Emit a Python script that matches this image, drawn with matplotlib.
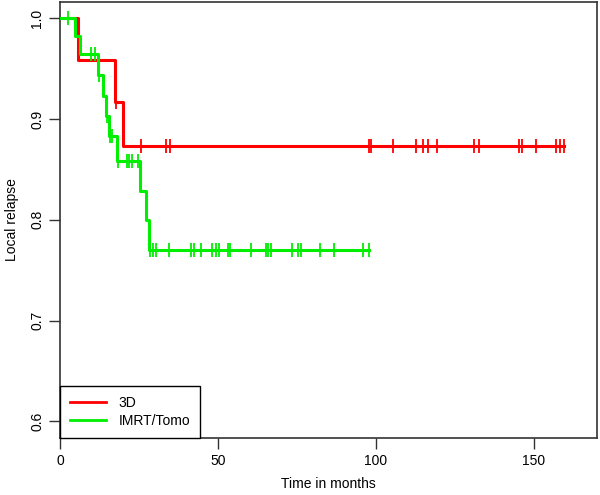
import numpy as np
import matplotlib
matplotlib.use("Agg")
import matplotlib.pyplot as plt

plt.rcParams['font.family'] = ['Liberation Sans', 'DejaVu Sans']

# Kaplan-Meier steps: time of drop, level after it
red_t = [0, 5.8, 17.3, 20.0]
red_s = [1.0, 0.958, 0.917, 0.873]
red_end = 159.5
red_cens = [17.7, 25.6, 33.7, 34.8, 97.9, 98.3, 105.5, 112.6, 114.9, 116.5,
            119.4, 131.0, 132.8, 145.3, 146.3, 150.6, 156.9, 158.3, 159.5]

green_t = [0, 4.6, 6.2, 12.0, 13.7, 14.5, 15.6, 18.1, 25.3, 27.1, 28.1]
green_s = [1.0, 0.982, 0.964, 0.944, 0.923, 0.903, 0.883, 0.858, 0.829, 0.800, 0.770]
green_end = 97.7
green_cens = [2.6, 9.7, 11.2, 12.4, 14.8, 15.8, 16.5, 18.4, 21.1, 21.8, 22.8, 24.7,
              28.5, 29.5, 30.3, 34.5, 41.5, 42.5, 44.5, 48.0, 49.3, 50.4, 53.3, 53.7,
              60.4, 65.1, 66.0, 66.7, 73.6, 75.5, 76.2, 82.4, 86.8, 95.8, 97.7]

labels = ['3D', 'IMRT/Tomo']
colors = ['#ff0000', '#00ee00']


def km(ax, t, s, end, cens, color, label):
    xs = list(t) + [end]
    ys = list(s) + [s[-1]]
    ax.step(xs, ys, where='post', color=color, lw=2.2, label=label, zorder=3)
    idx = np.searchsorted(t, cens, side='right') - 1
    cy = np.array(s)[idx]
    ax.plot(cens, cy, ls='none', marker='|', ms=10, mew=1.3, color=color, zorder=3)


fig = plt.figure(figsize=(6, 4.95), dpi=100)
ax = fig.add_axes([0.1, 0.116, 0.895, 0.88])

km(ax, red_t, red_s, red_end, red_cens, colors[0], labels[0])
km(ax, green_t, green_s, green_end, green_cens, colors[1], labels[1])

ax.set_xlim(0, 170)
ax.set_ylim(0.584, 1.016)
ax.set_xticks([0, 50, 100, 150])
ax.set_yticks([0.6, 0.7, 0.8, 0.9, 1.0])
ax.set_yticklabels(['0.6', '0.7', '0.8', '0.9', '1.0'], rotation=90, va='center')
ax.tick_params(direction='out', length=8, width=1, colors='#333333', labelsize=10,
               labelcolor='black')
for sp in ax.spines.values():
    sp.set_color('#333333')
    sp.set_linewidth(1.2)

ax.set_xlabel('Time in months', fontsize=10, labelpad=7)
ax.set_ylabel('Local relapse', fontsize=10, labelpad=8)

leg = ax.legend(loc='lower left', borderaxespad=0, fancybox=False, fontsize=10,
                handlelength=2.6, handletextpad=0.9, borderpad=0.7,
                labelspacing=0.3, framealpha=1)
leg.get_frame().set_edgecolor('black')
leg.get_frame().set_linewidth(1.0)
for h in leg.get_lines():
    h.set_linewidth(2)

fig.savefig('out.png', dpi=100)
